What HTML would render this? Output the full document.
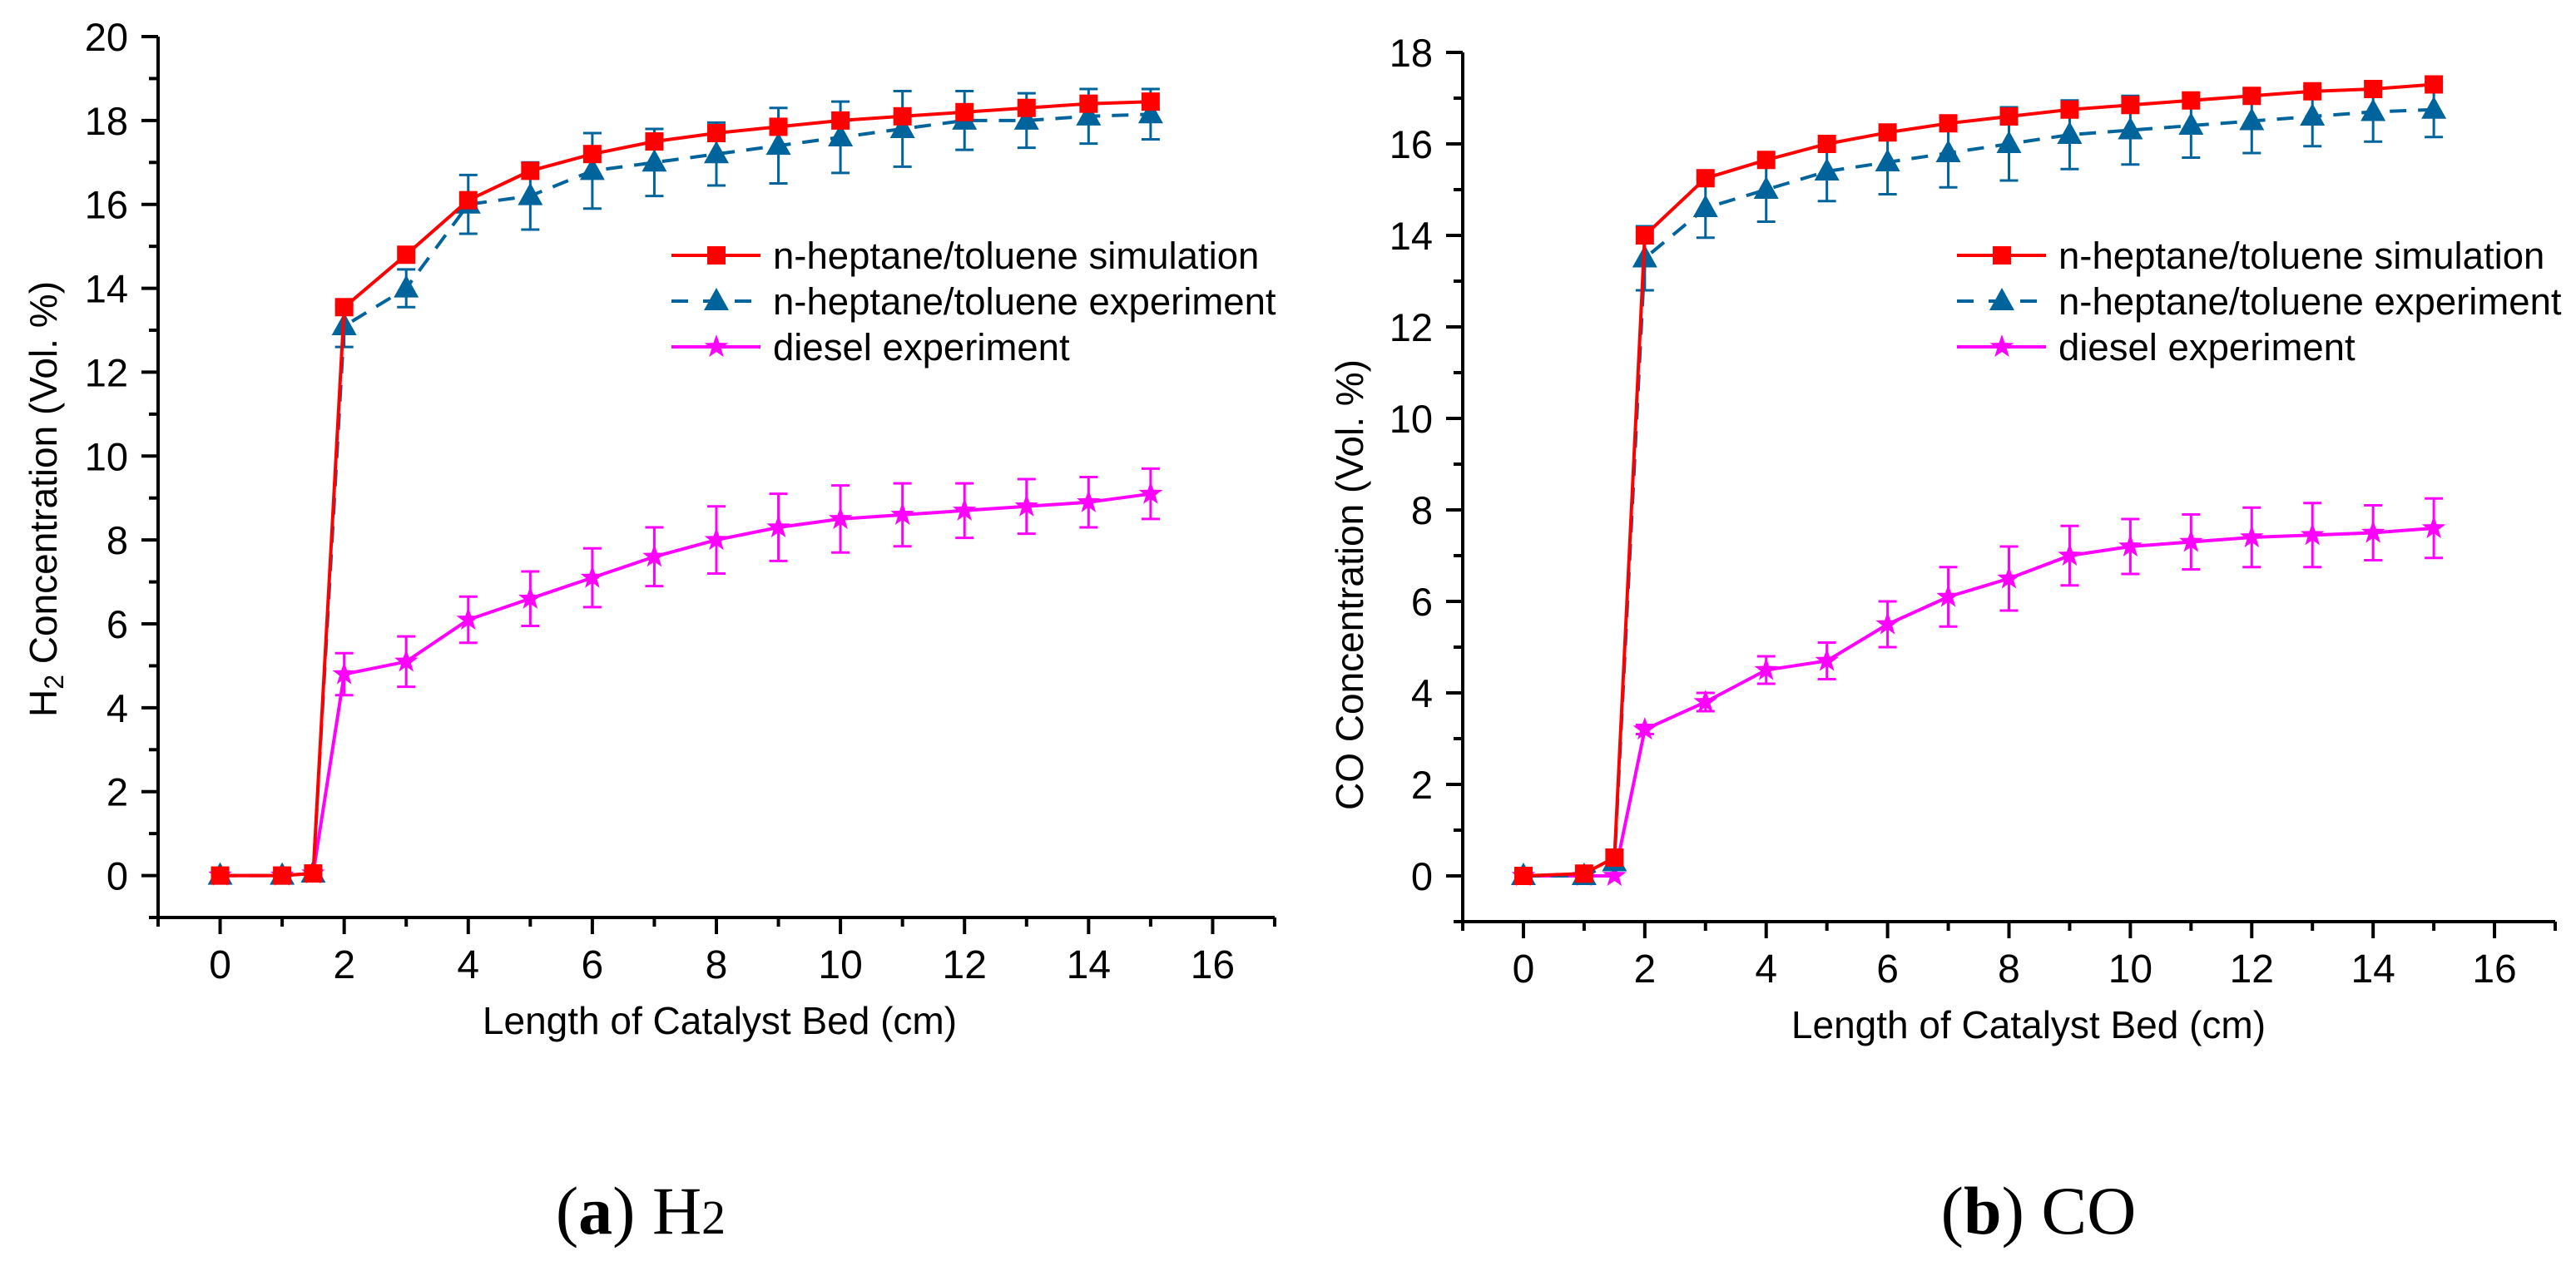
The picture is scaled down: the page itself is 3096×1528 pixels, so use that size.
<!DOCTYPE html>
<html><head><meta charset="utf-8"><style>
html,body{margin:0;padding:0;background:#fff;}
svg{display:block;font-family:"Liberation Sans",sans-serif;}
</style></head><body>
<svg id="fig" width="3096" height="1528" viewBox="0 0 3096 1528" xmlns="http://www.w3.org/2000/svg">
<rect width="3096" height="1528" fill="#fff"/>
<text x="770" y="1483" text-anchor="middle" font-family="Liberation Serif,serif" font-size="82">(<tspan font-weight="bold">a</tspan>) H<tspan font-size="58">2</tspan></text>
<text x="2450" y="1483" text-anchor="middle" font-family="Liberation Serif,serif" font-size="82">(<tspan font-weight="bold">b</tspan>) CO</text>
</svg>
<script>
const xs = [0,1,1.5,2,3,4,5,6,7,8,9,10,11,12,13,14,15];
const h2Sim = [0,0,0.05,13.55,14.8,16.1,16.8,17.2,17.5,17.7,17.85,18.0,18.1,18.2,18.3,18.4,18.45];
const h2Exp = [0,0,0.05,13.1,14.0,16.0,16.2,16.8,17.0,17.2,17.4,17.6,17.8,18.0,18.0,18.1,18.15];
const h2ExpErr = [0,0,0,0.5,0.45,0.7,0.8,0.9,0.8,0.75,0.9,0.85,0.9,0.7,0.65,0.65,0.6];
const h2Dsl = [0,0,0.05,4.8,5.1,6.1,6.6,7.1,7.6,8.0,8.3,8.5,8.6,8.7,8.8,8.9,9.1];
const h2DslErr = [0,0,0,0.5,0.6,0.55,0.65,0.7,0.7,0.8,0.8,0.8,0.75,0.65,0.65,0.6,0.6];
const coSim = [0,0.05,0.4,14.0,15.25,15.65,16.0,16.25,16.45,16.6,16.75,16.85,16.95,17.05,17.15,17.2,17.3];
const coExp = [0,0,0.3,13.5,14.6,15.0,15.4,15.6,15.8,16.0,16.2,16.3,16.4,16.5,16.6,16.7,16.75];
const coExpErr = [0,0,0,0.7,0.65,0.7,0.65,0.7,0.75,0.8,0.75,0.75,0.7,0.7,0.65,0.65,0.6];
const coDsl = [0,0,0,3.2,3.8,4.5,4.7,5.5,6.1,6.5,7.0,7.2,7.3,7.4,7.45,7.5,7.6];
const coDslErr = [0,0,0,0.1,0.2,0.3,0.4,0.5,0.65,0.7,0.65,0.6,0.6,0.65,0.7,0.6,0.65];
const xTicks = [0,2,4,6,8,10,12,14,16];
const h2YTicks = [0,2,4,6,8,10,12,14,16,18,20];
const coYTicks = [0,2,4,6,8,10,12,14,16,18];
const legendLabels = ["n-heptane/toluene simulation","n-heptane/toluene experiment","diesel experiment"];

const NS="http://www.w3.org/2000/svg";
const svg=document.getElementById('fig');
function mk(tag,attrs,parent){const e=document.createElementNS(NS,tag);for(const k in attrs)e.setAttribute(k,attrs[k]);(parent||svg).appendChild(e);return e;}

function panel(cfg){
  const g=mk('g',{});
  
  
  const X=v=>cfg.x0+(v-cfg.xmin)*(cfg.x1-cfg.x0)/(cfg.xmax-cfg.xmin);
  const Y=v=>cfg.y0-(v-cfg.ymin)*(cfg.y0-cfg.y1)/(cfg.ymax-cfg.ymin);
  const ax=mk('path',{d:`M${cfg.x0} ${cfg.y1}V${cfg.y0}H${cfg.x1}`,stroke:'#000','stroke-width':4,fill:'none'},g);
  
  
  for(let v=Math.ceil(cfg.xmin);v<=cfg.xmax;v++){
    const maj=xTicks.includes(v);
    const t=mk('line',{x1:X(v),x2:X(v),y1:cfg.y0,y2:cfg.y0+(maj?20:11),stroke:'#000','stroke-width':4},g);
    
    
  }
  xTicks.forEach(v=>{
    const t=mk('text',{x:X(v),y:cfg.y0+73,'text-anchor':'middle','font-size':48},g);
    t.textContent=v;
    
    
  });
  for(let v=Math.ceil(cfg.ymin);v<=cfg.ymax;v++){
    const maj=cfg.yTicks.includes(v);
    const t=mk('line',{x1:cfg.x0,x2:cfg.x0-(maj?20:11),y1:Y(v),y2:Y(v),stroke:'#000','stroke-width':4},g);
    
    
  }
  cfg.yTicks.forEach(v=>{
    const t=mk('text',{x:cfg.x0-36,y:Y(v)+17,'text-anchor':'end','font-size':47},g);
    t.textContent=v;
    
    
  });
  const xt=mk('text',{x:cfg.xtx,y:cfg.y0+140,'text-anchor':'middle','font-size':46},g);
  xt.textContent='Length of Catalyst Bed (cm)';
  
  
  const yt=mk('text',{x:0,y:0,'text-anchor':'middle','font-size':46,transform:`translate(${cfg.ytx},${cfg.yty}) rotate(-90)`},g);
  yt.innerHTML=cfg.ytitle;
  
  

  const series=[
    {vals:cfg.sim,err:null,color:'#ff0000',dash:null,mark:'square',name:'series-simulation'},
    {vals:cfg.exp,err:cfg.expErr,color:'#00649c',dash:'20 14',mark:'triangle',name:'series-heptane-experiment'},
    {vals:cfg.dsl,err:cfg.dslErr,color:'#ff00ff',dash:null,mark:'star',name:'series-diesel-experiment'}
  ];
  function marker(type,cx,cy,color,parent){
    if(type==='square') return mk('rect',{x:cx-11,y:cy-11,width:22,height:22,fill:color},parent);
    if(type==='triangle') return mk('path',{d:`M${cx} ${cy-16}L${cx+15} ${cy+11}L${cx-15} ${cy+11}Z`,fill:color},parent);
    let d='';for(let i=0;i<10;i++){const r=i%2?6:15;const a=-Math.PI/2+i*Math.PI/5;d+=(i?'L':'M')+(cx+r*Math.cos(a)).toFixed(1)+' '+(cy+r*Math.sin(a)).toFixed(1);}
    return mk('path',{d:d+'Z',fill:color},parent);
  }
  [2,1,0].forEach(si=>{
    const s=series[si];
    const sg=mk('g',{},g);
    
    
    if(s.err){
      xs.forEach((x,i)=>{
        if(!s.err[i])return;
        const e=mk('path',{d:`M${X(x)} ${Y(s.vals[i]-s.err[i])}V${Y(s.vals[i]+s.err[i])}M${X(x)-11} ${Y(s.vals[i]-s.err[i])}h22M${X(x)-11} ${Y(s.vals[i]+s.err[i])}h22`,stroke:s.color,'stroke-width':3,fill:'none'},sg);
        
        
      });
    }
    const pts=xs.map((x,i)=>X(x).toFixed(1)+','+Y(s.vals[i]).toFixed(1)).join(' ');
    const pl=mk('polyline',{points:pts,fill:'none',stroke:s.color,'stroke-width':4},sg);
    if(s.dash)pl.setAttribute('stroke-dasharray',s.dash);
    
    
    xs.forEach((x,i)=>{
      const m=marker(s.mark,X(x),Y(s.vals[i]),s.color,sg);
      
      
    });
  });
  const lg=mk('g',{},g);
  
  
  series.forEach((s,i)=>{
    const y=cfg.ly+i*cfg.lgap;
    const eg=mk('g',{},lg);
    
    
    const l=mk('line',{x1:cfg.lx,x2:cfg.lx+107,y1:y,y2:y,stroke:s.color,'stroke-width':4},eg);
    if(s.dash)l.setAttribute('stroke-dasharray','20 18');
    marker(s.mark,cfg.lx+54,y,s.color,eg);
    const t=mk('text',{x:cfg.lx+122,y:y+16,'font-size':45.5},eg);
    t.textContent=legendLabels[i];
  });
}

panel({name:'panel-h2',x0:190,x1:1532,y0:1103,y1:44,xmin:-1,xmax:17,ymin:-1,ymax:20,yTicks:h2YTicks,
  sim:h2Sim,exp:h2Exp,expErr:h2ExpErr,dsl:h2Dsl,dslErr:h2DslErr,
  xtx:865,ytx:68,yty:600,ytitle:'H<tspan font-size="32" dy="8">2</tspan><tspan dy="-8"> Concentration (Vol. %)</tspan>',
  lx:807,ly:307,lgap:55});
panel({name:'panel-co',x0:1758,x1:3071,y0:1108,y1:63,xmin:-1,xmax:17,ymin:-1,ymax:18,yTicks:coYTicks,
  sim:coSim,exp:coExp,expErr:coExpErr,dsl:coDsl,dslErr:coDslErr,
  xtx:2438,ytx:1638,yty:703,ytitle:'CO Concentration (Vol. %)',
  lx:2352,ly:307,lgap:55});
</script>
</body></html>
